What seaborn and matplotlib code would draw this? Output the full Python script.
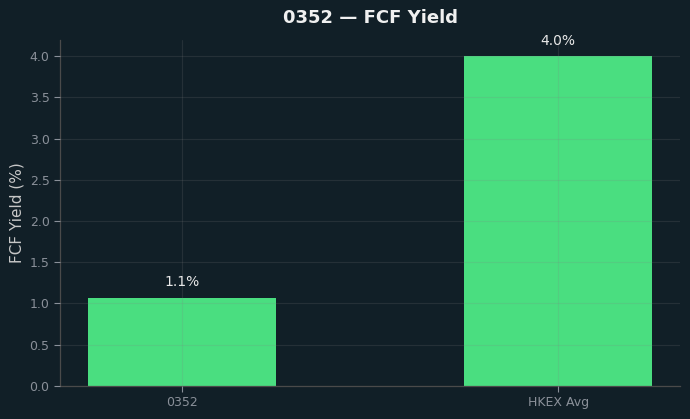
import matplotlib
matplotlib.use("Agg")
import matplotlib.pyplot as plt
import numpy as np
import pandas as pd
import seaborn as sns

# chart values
categories = ["0352", "HKEX Avg"]
fcf_yield = [1.07, 4.0]
value_labels = ["1.1%", "4.0%"]

BG = "#111f27"
BAR = "#4ade80"


def make_chart() -> None:
    data = pd.DataFrame({"ticker": categories, "fcf_yield": fcf_yield})

    sns.set_theme(style="dark")
    plt.rcParams["font.family"] = ["DejaVu Sans"]

    fig, ax = plt.subplots(figsize=(6.9, 4.19), dpi=100)
    fig.patch.set_facecolor(BG)
    ax.set_facecolor(BG)

    sns.barplot(data=data, x="ticker", y="fcf_yield", color=BAR,
                saturation=1, width=0.5, linewidth=0, ax=ax, zorder=2)

    for i, (val, lab) in enumerate(zip(fcf_yield, value_labels)):
        ax.text(i, val + 0.1, lab, ha="center", va="bottom",
                color="#e8e8e8", fontsize=10)

    ax.set_xlim(-0.325, 1.325)
    ax.set_ylim(0, 4.2)
    ax.set_yticks(np.arange(0, 4.01, 0.5))

    # faint grid, drawn over the bars as in the original
    ax.grid(True, color="#808080", alpha=0.18, linewidth=0.8, zorder=3)
    ax.set_axisbelow(False)

    ax.set_title("0352 — FCF Yield", color="#f0f0f0", fontsize=13,
                 fontweight="bold", pad=12)
    ax.set_xlabel("")
    ax.set_ylabel("FCF Yield (%)", color="#c8c8c8", fontsize=11)

    ax.tick_params(axis="both", colors="#8a9099", labelsize=9,
                   length=4, width=0.8, bottom=True, left=True)
    for side in ["top", "right"]:
        ax.spines[side].set_visible(False)
    for side in ["left", "bottom"]:
        ax.spines[side].set_visible(True)
        ax.spines[side].set_color("#4a4a4a")
        ax.spines[side].set_linewidth(0.9)

    plt.subplots_adjust(left=0.087, right=0.986, top=0.905, bottom=0.079)
    plt.savefig("out.png", dpi=100, facecolor=BG)


def main():
    make_chart()


if __name__ == "__main__":
    main()
